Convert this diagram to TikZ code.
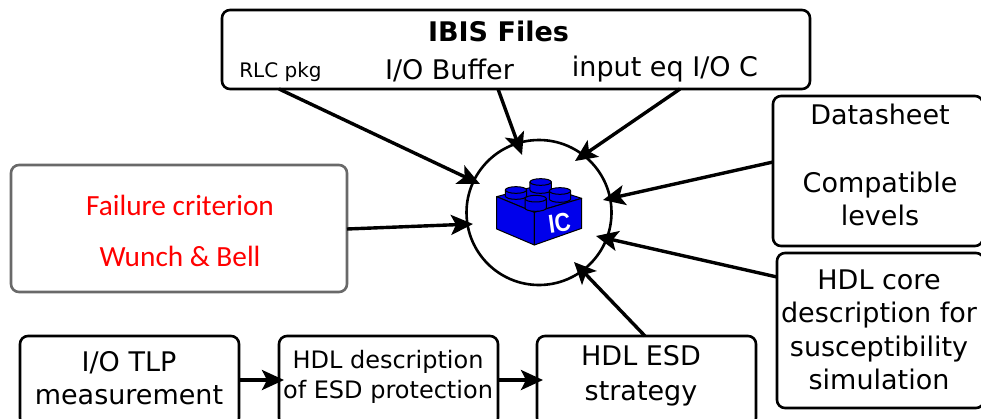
\documentclass[tikz,border=0pt]{standalone}
\usepackage{fontspec}
\setmainfont{DejaVu Sans}
\newfontfamily\redfont{Carlito}
\newfontfamily\brickfont{Liberation Sans}
\usetikzlibrary{arrows.meta}
\definecolor{brickblue}{RGB}{0,0,235}
\definecolor{frame}{RGB}{105,105,105}
\newcommand{\fs}[1]{\fontsize{#1}{#1}\selectfont}
\tikzset{
 box/.style={draw=black,line width=2.6pt,rounded corners=8pt,fill=white,inner sep=0pt,outer sep=0pt,anchor=north west,align=center},
 arr/.style={line width=3.4pt,-{Stealth[length=22pt,width=20pt,inset=5pt]}},
 txt/.style={inner sep=0pt,text=black},
 brick/.style={draw=black,line width=1pt,fill=brickblue,line join=round}
}
\begin{document}
\begin{tikzpicture}[x=1pt,y=-1pt]
\useasboundingbox (0,0) rectangle (981,418);
% boxes
\node[box,minimum width=588pt,minimum height=79pt] (ibis) at (222,10) {};
\node[box,minimum width=210pt,minimum height=150pt] (data) at (773,96) {};
\node[box,minimum width=207pt,minimum height=155pt] (core) at (777,253) {};
\node[box,draw=frame,minimum width=336pt,minimum height=127pt] (fail) at (11,165) {};
\node[box,minimum width=219pt,minimum height=90pt] (tlp) at (20,336) {};
\node[box,minimum width=219pt,minimum height=90pt] (desc) at (279,336) {};
\node[box,minimum width=219pt,minimum height=90pt] (esd) at (537,336) {};
\node[draw=black,line width=2.6pt,circle,minimum size=145pt,inner sep=0pt,outer sep=0pt] (chip) at (539,212.5) {};
% texts
\node[txt,font=\fs{27}\bfseries] (t1) at (498.5,31) {IBIS Files};
\node[txt,font=\fs{20}] (t2) at (280.5,71.5) {RLC pkg};
\node[txt,font=\fs{27}] (t3) at (449.5,70) {I/O Buffer};
\node[txt,font=\fs{27}] (t4) at (665,69.5) {input eq I/O C};
\node[txt,font=\fs{27}] (t5) at (880,114) {Datasheet};
\node[txt,font=\fs{27},align=center] (t6) at (880,199) {Compatible\\[6pt]levels};
\node[txt,font=\fs{27},align=center] (t7) at (879,330) {HDL core\\[6.5pt]description for\\[6.5pt]susceptibility\\[6.5pt]simulation};
\node[txt,font=\redfont\fs{29.3},text=red] (t8) at (180,205) {Failure criterion};
\node[txt,font=\redfont\fs{29.3},text=red] (t9) at (180,256) {Wunch \& Bell};
\node[txt,font=\fs{27},align=center] (t10) at (129,378) {I/O TLP\\[6pt]measurement};
\node[txt,font=\fs{24},align=center] (t11) at (388,377) {HDL description\\[6pt]of ESD protection};
\node[txt,font=\fs{27},align=center] (t12) at (641,376) {HDL ESD\\[8pt]strategy};
% brick
\begin{scope}[shift={(440,130)},x=.3333pt,y=-.3333pt]
\draw[brick] (170,200) -- (300,165) -- (425,205) -- (283,247) -- cycle;
\draw[brick] (170,200) -- (283,247) -- (283,345) -- (170,297) -- cycle;
\draw[brick] (283,247) -- (425,205) -- (425,295) -- (283,345) -- cycle;
\foreach \cx/\cy/\rx/\h in {302/156/32/24,228/180/32/18,360/183/32/24,287/206/32/28}{
 \draw[brick] (\cx-\rx,\cy) -- (\cx-\rx,\cy+\h) arc[start angle=180,end angle=0,x radius=\rx,y radius=10] -- (\cx+\rx,\cy) -- cycle;
 \draw[brick] (\cx,\cy) ellipse[x radius=\rx,y radius=10];
}
\end{scope}
\node[inner sep=0pt,text=white,font=\brickfont\fs{26}\bfseries,rotate=8,xscale=.85] (ic) at (559.5,223) {IC};
% arrows
\coordinate (e1) at (480,184);
\coordinate (e2) at (522,155);
\coordinate (e3) at (575,161);
\coordinate (e4) at (603,200);
\coordinate (e5) at (596,236);
\coordinate (e6) at (574,262);
\coordinate (e7) at (473,224);
\draw[arr] ([xshift=57pt]ibis.south west) -- (e1);
\draw[arr] ([xshift=276pt]ibis.south west) -- (e2);
\draw[arr] ([xshift=458pt]ibis.south west) -- (e3);
\draw[arr] ([yshift=-66pt]data.north west) -- (e4);
\draw[arr] ([yshift=-24pt]core.north west) -- (e5);
\draw[arr] ([xshift=108pt]esd.north west) -- (e6);
\draw[arr] ([yshift=-64pt]fail.north east) -- (e7);
\draw[arr] ([yshift=-44pt]tlp.north east) -- ([yshift=-44pt,xshift=5pt]desc.north west);
\draw[arr] ([yshift=-44pt]desc.north east) -- ([yshift=-44pt,xshift=6pt]esd.north west);
\end{tikzpicture}
\end{document}
